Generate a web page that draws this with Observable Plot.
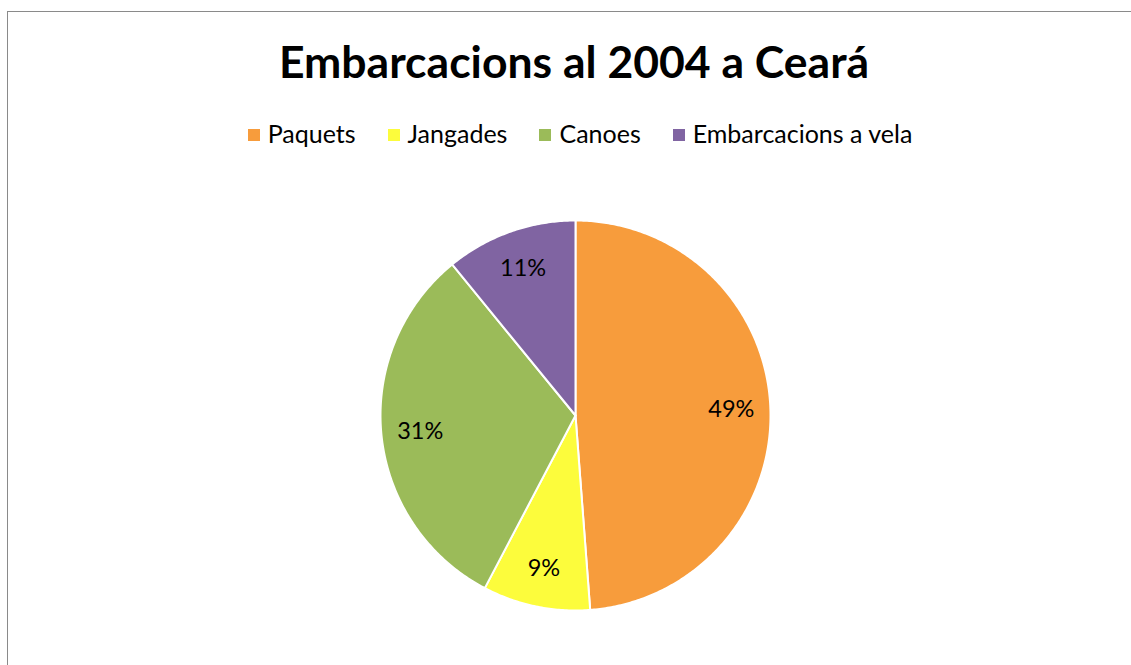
<!DOCTYPE html>
<html>
<head>
<meta charset="utf-8">
<script src="https://cdn.jsdelivr.net/npm/d3@7"></script>
<script src="https://cdn.jsdelivr.net/npm/@observablehq/plot@0.6"></script>
<style>
  html, body { margin: 0; padding: 0; background: #fff; }
  body { width: 1131px; height: 665px; position: relative; overflow: hidden; font-family: Lato, "Open Sans", sans-serif; }
  #frame { position: absolute; left: 7px; top: 11px; width: 1140px; height: 680px; border: 1.5px solid #8a8a8a; box-sizing: border-box; }
  #title { position: absolute; left: 0; width: 1148px; top: 34px; text-align: center; font-weight: 700; font-size: 44.5px; line-height: 54px; color: #000; white-space: nowrap; }
  #legend { position: absolute; left: 0; width: 1160px; top: 118px; text-align: center; font-size: 25px; line-height: 30px; color: #000; white-space: nowrap; }
  .item { display: inline-block; margin: 0 16px; }
  .sw { display: inline-block; width: 12px; height: 12px; margin-right: 8px; vertical-align: 2px; }
  #chart { position: absolute; left: 0; top: 190px; }
</style>
</head>
<body>
<div id="frame"></div>
<div id="title"></div>
<div id="legend"></div>
<div id="chart"></div>
<script>
const title = "Embarcacions al 2004 a Ceará";
const categories = ["Paquets", "Jangades", "Canoes", "Embarcacions a vela"];
const values = [48.8, 8.9, 31.4, 10.9];
const labels = ["49%", "9%", "31%", "11%"];
const colors = ["#F79C3C", "#FCFC3C", "#9BBB59", "#8064A2"];

document.getElementById("title").textContent = title;
const legend = document.getElementById("legend");
categories.forEach((c, i) => {
  const it = document.createElement("span");
  it.className = "item";
  const sw = document.createElement("span");
  sw.className = "sw";
  sw.style.background = colors[i];
  it.appendChild(sw);
  it.appendChild(document.createTextNode(c));
  legend.appendChild(it);
});

// angles (clockwise from 12 o'clock) from d3.pie, no sorting
const arcs = d3.pie().sort(null).value(d => d)(values);
const slices = [];
const labelPts = [];
const labelR = 0.8;
arcs.forEach((a, i) => {
  const pts = [{name: categories[i], x: 0, y: 0}];
  const n = Math.max(2, Math.ceil((a.endAngle - a.startAngle) / 0.01));
  for (let k = 0; k <= n; k++) {
    const t = a.startAngle + (a.endAngle - a.startAngle) * k / n;
    pts.push({name: categories[i], x: Math.sin(t), y: Math.cos(t)});
  }
  pts.push({name: categories[i], x: 0, y: 0});
  slices.push(...pts);
  const m = (a.startAngle + a.endAngle) / 2;
  labelPts.push({name: categories[i], label: labels[i], x: labelR * Math.sin(m), y: labelR * Math.cos(m)});
});

const R = 195;
const cx = 575, cy = 225;
const W = 1131, H = 460;
const chart = Plot.plot({
  width: W,
  height: H,
  marginLeft: cx - R,
  marginRight: W - (cx + R),
  marginTop: cy - R,
  marginBottom: H - (cy + R),
  x: {domain: [-1, 1], axis: null},
  y: {domain: [-1, 1], axis: null},
  color: {domain: categories, range: colors},
  style: {fontFamily: "Lato, 'Open Sans', sans-serif", background: "transparent", overflow: "visible"},
  marks: [
    Plot.line(slices, {x: "x", y: "y", z: "name", fill: "name", stroke: "white", strokeWidth: 2, strokeLinejoin: "round", curve: "linear"}),
    Plot.text(labelPts, {x: "x", y: "y", text: "label", fontSize: 23.5, fill: "#000"})
  ]
});
document.getElementById("chart").appendChild(chart);
</script>
</body>
</html>
